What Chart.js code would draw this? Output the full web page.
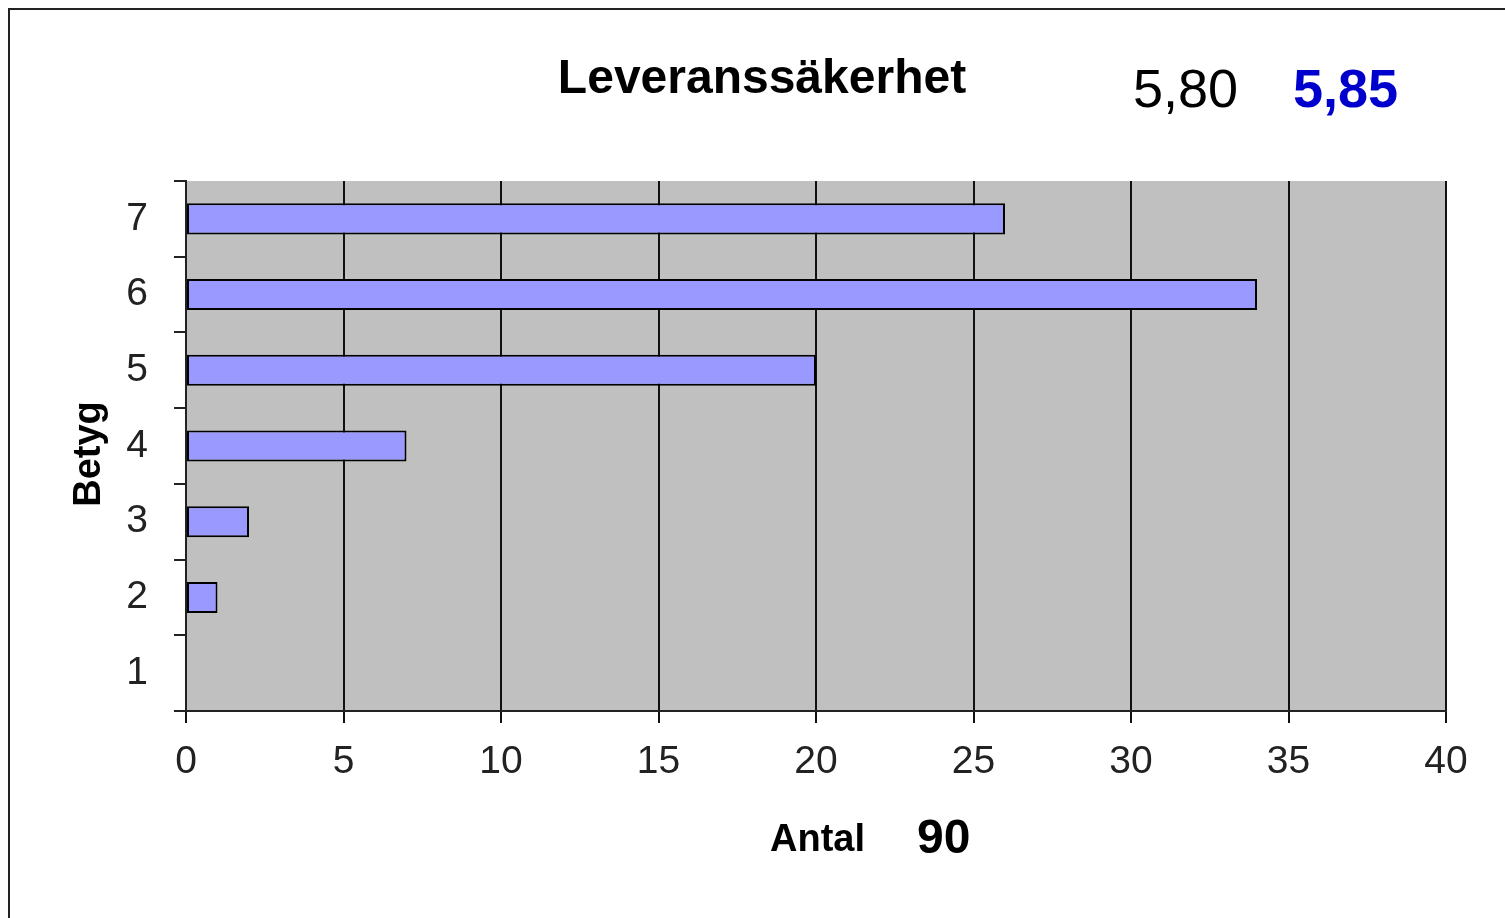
<!DOCTYPE html>
<html>
<head>
<meta charset="utf-8">
<script src="https://cdn.jsdelivr.net/npm/chart.js@4/dist/chart.umd.min.js"></script>
<style>
  html, body { margin: 0; padding: 0; background: #fff; }
  #wrap { position: relative; width: 1505px; height: 918px; }
</style>
</head>
<body>
<div id="wrap"><canvas id="chart"></canvas></div>
<script>
// data
const grades = ['7', '6', '5', '4', '3', '2', '1']
const counts = [26, 34, 20, 7, 2, 1, 0]
const xTicks = [0, 5, 10, 15, 20, 25, 30, 35, 40]
const chartTitle = 'Leveranssäkerhet'
const avgPrev = '5,80'
const avgNow = '5,85'
const totalLabel = 'Antal'
const total = '90'
const yTitle = 'Betyg'

const FONT = '"Liberation Sans", Arial, sans-serif'

// gray plot background + frame + texts
const decor = {
  id: 'decor',
  beforeDraw(c) {
    const { ctx, chartArea: a } = c
    ctx.save()
    ctx.fillStyle = '#c0c0c0'
    ctx.fillRect(a.left, a.top, a.right - a.left, a.bottom - a.top)
    ctx.restore()
  },
  afterDraw(c) {
    const ctx = c.ctx
    ctx.save()
    // outer frame (only left and top show in the picture)
    ctx.strokeStyle = '#222'
    ctx.lineWidth = 2
    ctx.beginPath()
    ctx.moveTo(9, 930)
    ctx.lineTo(9, 9)
    ctx.lineTo(1520, 9)
    ctx.stroke()

    ctx.textBaseline = 'alphabetic'
    ctx.fillStyle = '#000'
    ctx.textAlign = 'center'
    ctx.font = 'bold 48px ' + FONT
    ctx.fillText(chartTitle, 762, 93)

    ctx.textAlign = 'left'
    ctx.font = '54px ' + FONT
    ctx.fillText(avgPrev, 1133, 107)
    ctx.fillStyle = '#0000cc'
    ctx.font = 'bold 54px ' + FONT
    ctx.fillText(avgNow, 1293, 107)

    ctx.fillStyle = '#000'
    ctx.font = 'bold 38px ' + FONT
    ctx.fillText(totalLabel, 770, 851)
    ctx.font = 'bold 48px ' + FONT
    ctx.fillText(total, 917, 853)

    ctx.translate(100, 454)
    ctx.rotate(-Math.PI / 2)
    ctx.textAlign = 'center'
    ctx.font = 'bold 38px ' + FONT
    ctx.fillText(yTitle, 0, 0)
    ctx.restore()
  }
}

new Chart(document.querySelector('#chart'), {
  type: 'bar',
  data: {
    labels: grades,
    datasets: [{
      data: counts,
      backgroundColor: '#9999ff',
      borderColor: '#000',
      borderWidth: 2,
      borderSkipped: false,
      barPercentage: 0.41,
      categoryPercentage: 1
    }]
  },
  options: {
    indexAxis: 'y',
    responsive: true,
    maintainAspectRatio: false,
    animation: false,
    layout: { padding: { left: 60, top: 181, right: 59, bottom: 107 } },
    plugins: { legend: { display: false }, tooltip: { enabled: false }, title: { display: false } },
    scales: {
      x: {
        min: 0,
        max: 40,
        afterFit(s) { s.height = 100 },
        afterBuildTicks(s) { s.ticks = xTicks.map(v => ({ value: v })) },
        border: { color: '#222', width: 2 },
        grid: { color: '#111', lineWidth: 2, tickLength: 12, drawTicks: true },
        ticks: { color: '#222', padding: 16, font: { family: FONT, size: 39 } }
      },
      y: {
        afterFit(s) { s.width = 126 },
        border: { color: '#222', width: 2 },
        grid: { drawOnChartArea: false, color: '#222', lineWidth: 2, tickLength: 12 },
        ticks: { color: '#222', padding: 26, font: { family: FONT, size: 39 } }
      }
    }
  },
  plugins: [decor]
})
</script>
</body>
</html>
